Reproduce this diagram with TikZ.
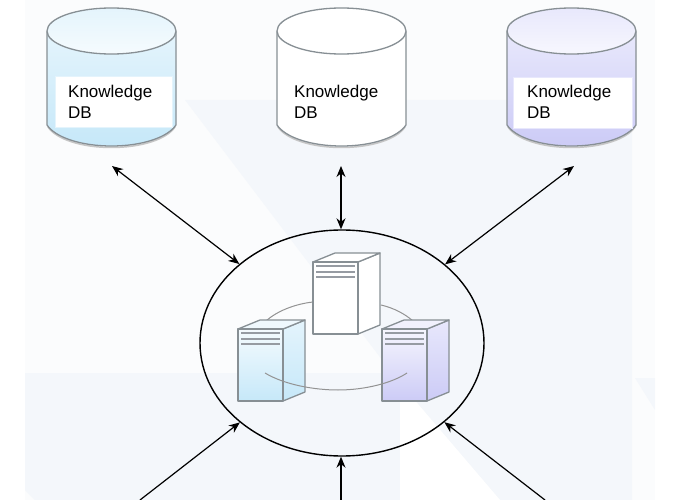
\documentclass[tikz,border=0pt]{standalone}
\usepackage{fontspec}
\setmainfont{Liberation Sans}
\usetikzlibrary{arrows.meta,positioning,shapes.geometric}
\definecolor{paleback}{RGB}{244,247,251}
\definecolor{faintback}{RGB}{251,252,253}
\definecolor{edgegray}{RGB}{135,143,148}
\definecolor{barsgray}{RGB}{150,155,162}
\definecolor{icea}{RGB}{228,244,252}
\definecolor{iceb}{RGB}{198,232,249}
\definecolor{lilaca}{RGB}{232,232,252}
\definecolor{lilacb}{RGB}{204,203,246}
% drum: left x, fill top, fill bottom
\newcommand{\dbdrum}[3]{%
  \draw[gray!45,line width=1.5pt] (#1+1,127) .. controls (#1+9,139) and (#1+34,147.5) .. (#1+64.5,147.5) .. controls (#1+95,147.5) and (#1+120,139) .. (#1+128,127);
  \path[drum,top color=#2,bottom color=#3] (#1,32) -- (#1,125) .. controls (#1+8,137) and (#1+33,146) .. (#1+64.5,146) .. controls (#1+96,146) and (#1+121,137) .. (#1+129,125) -- (#1+129,32) -- cycle;
  \path[drum,top color=#2,bottom color=#2!35!white] (#1+64.5,31) ellipse [x radius=64.5,y radius=23];
}
% server: front left x, front top y, fill top, fill bottom
\newcommand{\rackbox}[4]{%
  \path[rackline,top color=#3,bottom color=#4] (#1+45,#2) -- (#1+67,#2-9) -- (#1+67,#2+63) -- (#1+45,#2+72) -- cycle;
  \path[rackline,fill=#3!60!white] (#1,#2) -- (#1+22,#2-9) -- (#1+67,#2-9) -- (#1+45,#2) -- cycle;
  \path[rackline,top color=#3!40!white,bottom color=#4] (#1,#2) rectangle (#1+45,#2+72);
  \foreach \barrow in {4,10,15}
    \draw[barsgray,line width=1.5pt] (#1+3,#2+\barrow) -- (#1+42,#2+\barrow);
}
\begin{document}
\begin{tikzpicture}[x=1pt,y=-1pt,>=Stealth, every node/.style={font=\fontsize{17}{21}\selectfont}]
  \tikzset{drum/.style={draw=edgegray,line width=1.3pt}}
  \tikzset{rackline/.style={draw=edgegray,line width=1.3pt,line join=round}}
  \tikzset{ringline/.style={draw=gray!85,line width=1pt}}
  \tikzset{dblabel/.style={fill=white,anchor=north west,minimum height=51pt,inner sep=0pt}}
  \tikzset{dbtext/.style={anchor=north west,inner sep=0pt,align=left}}
  \tikzset{link/.style={<->,line width=1.2pt,>={Stealth[length=11pt,width=9pt]}}}
  \tikzset{uplink/.style={->,line width=1.2pt,>={Stealth[length=11pt,width=9pt]}}}
  \useasboundingbox (0,0) rectangle (680,500);

  % Watermark
  \fill[faintback] (25,0) rectangle (655,500);
  \fill[paleback] (185,100) -- (632,100) -- (632,500) -- (500,500) -- (400,383) -- (392,373) -- cycle;
  \fill[paleback] (25,373) -- (400,373) -- (400,500) -- (35,500) -- (25,490) -- cycle;
  \fill[paleback] (635,378) -- (655,378) -- (655,410) -- cycle;
  \fill[white] (400,383) -- (500,500) -- (400,500) -- cycle;

  % Databases
  \dbdrum{47}{icea}{iceb}
  \dbdrum{277}{white}{white}
  \dbdrum{507}{lilaca}{lilacb}

  \node[dblabel,draw=icea,minimum width=117pt] (dbleft) at (55,76) {};
  \node[dblabel,minimum width=117pt] (dbmid) at (285,76) {};
  \node[dblabel,draw=lilaca,minimum width=119pt] (dbright) at (513,77) {};
  \node[dbtext] (textleft) at (68,85) {Knowledge\\DB};
  \node[dbtext] (textmid) at (294,85) {Knowledge\\DB};
  \node[dbtext] (textright) at (527,85) {Knowledge\\DB};

  % Hub
  \node[ellipse,draw,line width=1.4pt,minimum width=284pt,minimum height=226pt,inner sep=0pt] (hub) at (342,343) {};

  \path[ringline] (266,321) .. controls (277,311) and (295,304) .. (313,302);
  \path[ringline] (381,305) .. controls (394,308) and (405,314) .. (413,321);

  \rackbox{313}{262}{white}{white}
  \rackbox{238}{329}{icea}{iceb}
  \rackbox{382}{329}{lilaca}{lilacb}

  \path[ringline] (265,373) .. controls (285,385) and (315,390) .. (338,390) .. controls (365,390) and (392,383) .. (407,373);

  % Links
  \coordinate (endleft) at (112,166);
  \coordinate (endmid) at (341,166);
  \coordinate (endright) at (574,166);
  \coordinate (footleft) at (140,500);
  \coordinate (footmid) at (341,500);
  \coordinate (footright) at (545,500);
  \draw[link] (endleft) -- (hub);
  \draw[link] (endmid) -- (hub.north -| endmid);
  \draw[link] (endright) -- (hub);
  \draw[uplink] (footleft) -- (hub);
  \draw[uplink] (footmid) -- (hub.south -| footmid);
  \draw[uplink] (footright) -- (hub);
\end{tikzpicture}
\end{document}
